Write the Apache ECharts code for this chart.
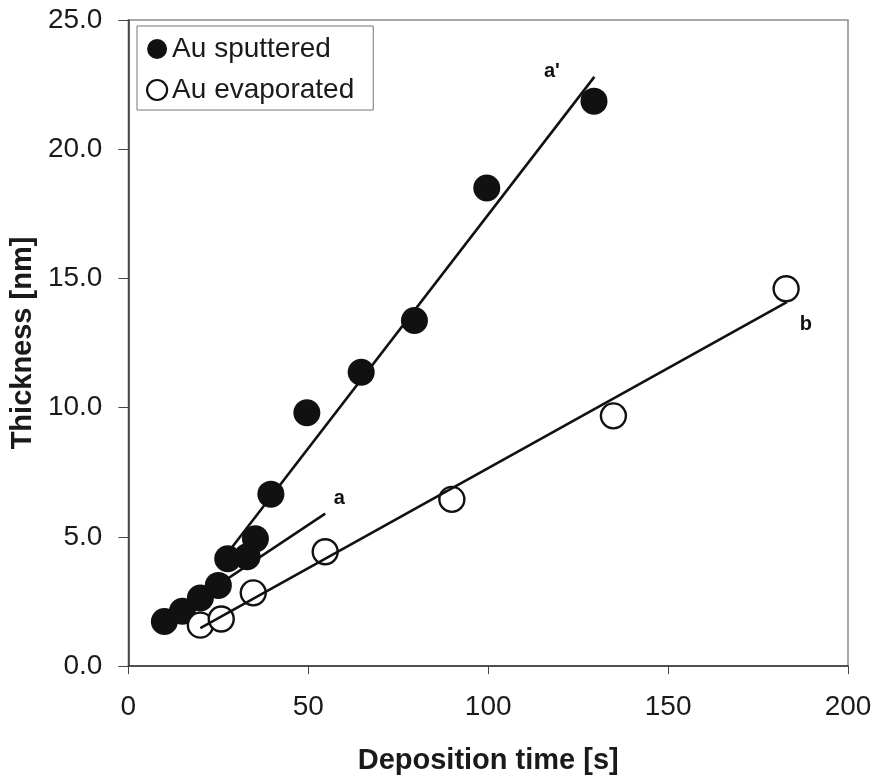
<!DOCTYPE html>
<html>
<head>
<meta charset="utf-8">
<script src="https://cdn.jsdelivr.net/npm/echarts@6/dist/echarts.min.js"></script>
<style>html,body{margin:0;padding:0;background:#fff}#c{width:877px;height:780px}</style>
</head>
<body>
<div id="c"></div>
<script>
// Data
var sputteredX = [10, 15, 20, 25, 27.6, 33, 35.3, 39.6, 49.6, 64.7, 79.5, 99.6, 129.4];
var sputteredY = [1.72, 2.12, 2.63, 3.12, 4.15, 4.23, 4.92, 6.65, 9.8, 11.37, 13.37, 18.5, 21.86];
var evaporatedX = [20, 25.8, 34.7, 54.7, 89.9, 134.8, 182.8];
var evaporatedY = [1.58, 1.82, 2.83, 4.42, 6.45, 9.68, 14.6];
// fitted lines (end points)
var lineA1X = [28, 129.5], lineA1Y = [4.45, 22.8];   // a'
var lineAX = [10, 54.7],   lineAY = [1.75, 5.9];     // a
var lineBX = [20, 183],    lineBY = [1.47, 14.08];   // b
// line tags
var tagNames = ["a'", 'a', 'b'];
var tagX = [117.7, 58.6, 188.3];
var tagY = [23.0, 6.47, 13.23];
var xTicks = [0, 50, 100, 150, 200];
var yTicks = [0, 5, 10, 15, 20, 25];

function pairs(xs, ys) { return xs.map(function (x, i) { return [x, ys[i]]; }); }

var FONT = '"Liberation Sans", Arial, sans-serif';
var chart = echarts.init(document.getElementById('c'));
chart.setOption({
  animation: false,
  backgroundColor: '#fff',
  textStyle: { fontFamily: FONT },
  grid: { left: 128, right: 29, top: 20, bottom: 110, show: true, borderColor: '#8a8a8a', borderWidth: 1.5, backgroundColor: 'transparent' },
  legend: {
    orient: 'vertical', left: 137, top: 26,
    padding: [9, 19, 6, 9], itemGap: 13,
    itemWidth: 20, itemHeight: 20,
    borderColor: '#777', borderWidth: 1, backgroundColor: '#fff',
    textStyle: { fontSize: 28, color: '#1a1a1a', fontFamily: FONT },
    data: [
      { name: 'Au sputtered', icon: 'circle', itemStyle: { color: '#111', borderWidth: 0 } },
      { name: 'Au evaporated', icon: 'circle', itemStyle: { color: '#fff', borderColor: '#111', borderWidth: 2.2 } }
    ]
  },
  xAxis: {
    type: 'value', min: xTicks[0], max: xTicks[xTicks.length - 1], interval: 50,
    name: 'Deposition time [s]', nameLocation: 'middle', nameGap: 80,
    nameTextStyle: { fontSize: 29, fontWeight: 'bold', color: '#1a1a1a', fontFamily: FONT },
    axisLine: { lineStyle: { color: '#333', width: 1.5 } },
    axisTick: { show: true, length: 8, lineStyle: { color: '#444', width: 1 } },
    axisLabel: { fontSize: 28, color: '#1a1a1a', margin: 27, fontFamily: FONT },
    splitLine: { show: false }
  },
  yAxis: {
    type: 'value', min: yTicks[0], max: yTicks[yTicks.length - 1], interval: 5,
    name: 'Thickness [nm]', nameLocation: 'middle', nameGap: 86,
    nameTextStyle: { fontSize: 29, fontWeight: 'bold', color: '#1a1a1a', fontFamily: FONT },
    axisLine: { show: true, lineStyle: { color: '#333', width: 1.5 } },
    axisTick: { show: true, length: 10, lineStyle: { color: '#444', width: 1 } },
    axisLabel: { fontSize: 28, color: '#1a1a1a', margin: 26, fontFamily: FONT, formatter: function (v) { return v.toFixed(1); } },
    splitLine: { show: false }
  },
  series: [
    { name: 'Au sputtered', type: 'scatter', z: 2, symbol: 'circle', symbolSize: 27,
      itemStyle: { color: '#111', opacity: 1 }, data: pairs(sputteredX, sputteredY) },
    { name: 'Au evaporated', type: 'scatter', z: 3, symbol: 'circle', symbolSize: 25,
      itemStyle: { color: '#fff', borderColor: '#111', borderWidth: 2.4, opacity: 1 }, data: pairs(evaporatedX, evaporatedY) },
    { name: 'fitA1', type: 'line', z: 5, symbol: 'none', lineStyle: { color: '#111', width: 2.6 }, data: pairs(lineA1X, lineA1Y) },
    { name: 'fitA', type: 'line', z: 5, symbol: 'none', lineStyle: { color: '#111', width: 2.6 }, data: pairs(lineAX, lineAY) },
    { name: 'fitB', type: 'line', z: 5, symbol: 'none', lineStyle: { color: '#111', width: 2.6 }, data: pairs(lineBX, lineBY) },
    { name: 'tags', type: 'scatter', z: 6, symbolSize: 1, itemStyle: { color: 'rgba(0,0,0,0)', opacity: 1 },
      label: { show: true, position: 'inside', fontSize: 20, fontWeight: 'bold', color: '#111', opacity: 1, fontFamily: FONT,
        formatter: function (p) { return p.name; } },
      data: tagNames.map(function (n, i) { return { name: n, value: [tagX[i], tagY[i]] }; }) }
  ]
});
</script>
</body>
</html>
